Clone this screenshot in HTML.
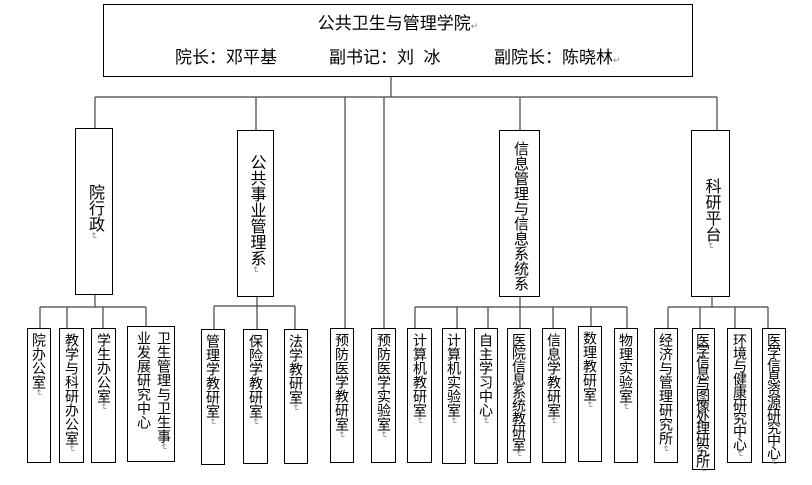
<!DOCTYPE html>
<html><head><meta charset="utf-8"><style>
body{margin:0;width:812px;height:485px;background:#fff;position:relative;overflow:hidden;font-family:"Liberation Sans","Noto Sans CJK SC",sans-serif;color:#000}
.b{position:absolute;border:1px solid #000;background:#fff;box-sizing:border-box}
.v{writing-mode:vertical-rl;font-size:14px;line-height:22px;position:absolute;left:0;right:0;top:4px;display:flex;align-items:flex-start;justify-content:center;white-space:nowrap}
.v2{writing-mode:vertical-rl;font-size:16px;line-height:38px;position:absolute;left:0;right:0;top:0;bottom:0;display:flex;align-items:center;justify-content:center;white-space:nowrap}
.m{color:#888;font-size:9px}
.t{position:absolute;font-size:17px;white-space:pre;top:38px}
svg{position:absolute;left:0;top:0}
</style></head><body>
<svg width="812" height="485"><g stroke="#444" stroke-width="1.2" fill="none">
<line x1="391" y1="77" x2="391" y2="97"/>
<line x1="95" y1="97" x2="717" y2="97"/>
<line x1="95" y1="97" x2="95" y2="128"/>
<line x1="256" y1="97" x2="256" y2="130"/>
<line x1="345" y1="97" x2="345" y2="328"/>
<line x1="384" y1="97" x2="384" y2="328"/>
<line x1="520" y1="97" x2="520" y2="130"/>
<line x1="717" y1="97" x2="717" y2="130"/>
<line x1="95" y1="295" x2="95" y2="307"/>
<line x1="40" y1="307" x2="146" y2="307"/>
<line x1="40" y1="307" x2="40" y2="328"/><line x1="67" y1="307" x2="67" y2="328"/><line x1="103" y1="307" x2="103" y2="328"/><line x1="146" y1="307" x2="146" y2="326"/>
<line x1="257" y1="297" x2="257" y2="306"/>
<line x1="214" y1="306" x2="295" y2="306"/>
<line x1="214" y1="306" x2="214" y2="329"/><line x1="257" y1="306" x2="257" y2="329"/><line x1="295" y1="306" x2="295" y2="329"/>
<line x1="520" y1="297" x2="520" y2="307"/>
<line x1="415" y1="307" x2="627" y2="307"/>
<line x1="415" y1="307" x2="415" y2="328"/><line x1="457" y1="307" x2="457" y2="328"/><line x1="488" y1="307" x2="488" y2="328"/><line x1="520" y1="307" x2="520" y2="328"/><line x1="553" y1="307" x2="553" y2="328"/><line x1="591" y1="307" x2="591" y2="326"/><line x1="627" y1="307" x2="627" y2="328"/>
<line x1="712" y1="297" x2="712" y2="307"/>
<line x1="668" y1="307" x2="768" y2="307"/>
<line x1="668" y1="307" x2="668" y2="328"/><line x1="700" y1="307" x2="700" y2="328"/><line x1="735" y1="307" x2="735" y2="328"/><line x1="768" y1="307" x2="768" y2="328"/>
</g></svg>

<div class="b" style="left:103px;top:4px;width:590px;height:73px">
<div style="position:absolute;left:0;right:0;top:4px;text-align:center;font-size:17px">公共卫生与管理学院<span class="m">↵</span></div>
<div class="t" style="left:71px">院长：邓平基</div>
<div class="t" style="left:225px">副书记：刘  冰</div>
<div class="t" style="left:390px">副院长：陈晓林<span class="m">↵</span></div>
</div>

<div class="b" style="left:75px;top:128px;width:38px;height:167px"><div class="v2">院行政<span class="m">↵</span></div></div>
<div class="b" style="left:237px;top:130px;width:37px;height:167px"><div class="v2">公共事业管理系<span class="m">↵</span></div></div>
<div class="b" style="left:499px;top:130px;width:41px;height:167px"><div class="v2" style="align-items:flex-start;padding-top:4px;font-size:15px">信息管理与信息系统系</div></div>
<div class="b" style="left:691px;top:130px;width:39px;height:167px"><div class="v2">科研平台<span class="m">↵</span></div></div>

<div class="b" style="left:27px;top:328px;width:24px;height:135px"><div class="v">院办公室<span class="m">↵</span></div></div>
<div class="b" style="left:59px;top:328px;width:25px;height:135px"><div class="v">教学与科研办公室<span class="m">↵</span></div></div>
<div class="b" style="left:91px;top:328px;width:25px;height:135px"><div class="v">学生办公室<span class="m">↵</span></div></div>
<div class="b" style="left:127px;top:326px;width:48px;height:136px"><div class="v" style="line-height:20px">卫生管理与卫生事<br>业发展研究中心<span class="m">↵</span></div></div>

<div class="b" style="left:201px;top:329px;width:24px;height:136px"><div class="v">管理学教研室<span class="m">↵</span></div></div>
<div class="b" style="left:243px;top:329px;width:25px;height:135px"><div class="v">保险学教研室<span class="m">↵</span></div></div>
<div class="b" style="left:284px;top:329px;width:24px;height:135px"><div class="v">法学教研室<span class="m">↵</span></div></div>
<div class="b" style="left:330px;top:328px;width:24px;height:135px"><div class="v">预防医学教研室<span class="m">↵</span></div></div>
<div class="b" style="left:371px;top:328px;width:25px;height:135px"><div class="v">预防医学实验室<span class="m">↵</span></div></div>

<div class="b" style="left:407px;top:328px;width:25px;height:135px"><div class="v">计算机教研室<span class="m">↵</span></div></div>
<div class="b" style="left:442px;top:328px;width:24px;height:136px"><div class="v">计算机实验室<span class="m">↵</span></div></div>
<div class="b" style="left:474px;top:328px;width:24px;height:136px"><div class="v">自主学习中心<span class="m">↵</span></div></div>
<div class="b" style="left:507px;top:328px;width:24px;height:135px"><div class="v" style="letter-spacing:-1px">医院信息系统教研室<span class="m">↵</span></div></div>
<div class="b" style="left:542px;top:328px;width:24px;height:135px"><div class="v">信息学教研室<span class="m">↵</span></div></div>
<div class="b" style="left:578px;top:326px;width:24px;height:136px"><div class="v">数理教研室<span class="m">↵</span></div></div>
<div class="b" style="left:614px;top:328px;width:24px;height:135px"><div class="v">物理实验室<span class="m">↵</span></div></div>

<div class="b" style="left:654px;top:328px;width:24px;height:135px"><div class="v">经济与管理研究所<span class="m">↵</span></div></div>
<div class="b" style="left:692px;top:328px;width:23px;height:142px"><div class="v" style="letter-spacing:-3px">医学信息与图像处理研究所<span class="m">↵</span></div></div>
<div class="b" style="left:727px;top:328px;width:25px;height:135px"><div class="v" style="letter-spacing:-1px">环境与健康研究中心<span class="m">↵</span></div></div>
<div class="b" style="left:762px;top:328px;width:24px;height:135px"><div class="v" style="letter-spacing:-1.5px">医学信息资源研究中心<span class="m">↵</span></div></div>
</body></html>
